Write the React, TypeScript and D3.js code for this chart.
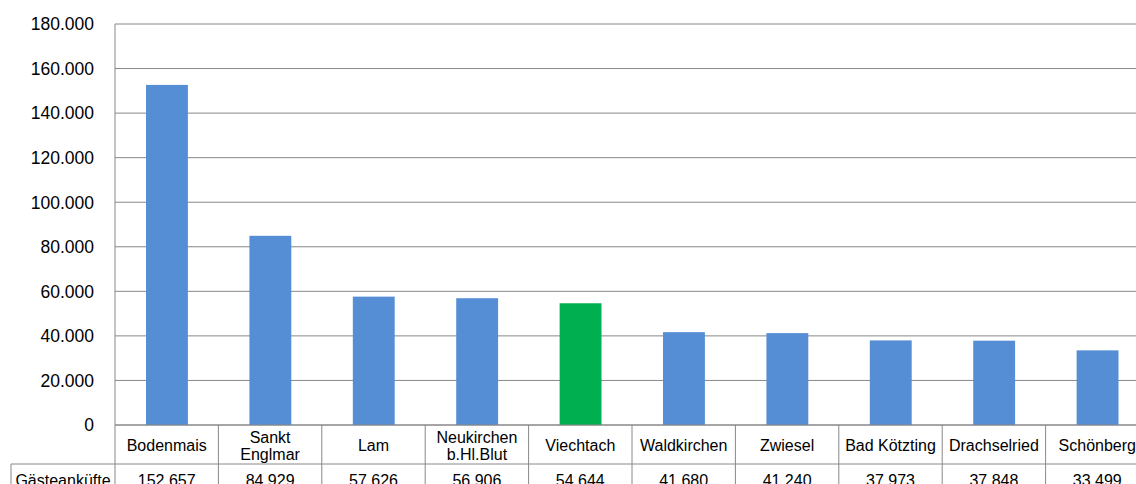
import React from "react";
import * as d3 from "d3";

const categories: string[][] = [
  ["Bodenmais"],
  ["Sankt", "Englmar"],
  ["Lam"],
  ["Neukirchen", "b.Hl.Blut"],
  ["Viechtach"],
  ["Waldkirchen"],
  ["Zwiesel"],
  ["Bad Kötzting"],
  ["Drachselried"],
  ["Schönberg"],
];
const values: number[] = [152657, 84929, 57626, 56906, 54644, 41680, 41240, 37973, 37848, 33499];
const highlight: boolean[] = [false, false, false, false, true, false, false, false, false, false];
const yTicks: number[] = [0, 20000, 40000, 60000, 80000, 100000, 120000, 140000, 160000, 180000];
const seriesName = "Gästeanküfte";

const fmt = (v: number) => (v === 0 ? "0" : d3.format(",.0f")(v).replace(/,/g, "."));

export default function App() {
  const W = 1136, H = 484;
  const left = 115, top = 24, bottom = 425;
  const bandW = 103.4;
  const x = d3.scaleBand<number>().domain(d3.range(values.length)).range([left, left + bandW * values.length]).padding(0);
  const y = d3.scaleLinear().domain([0, 180000]).range([bottom, top]);
  const bw = x.bandwidth();
  const right = left + bw * values.length;
  const row1B = 464, row2B = 504;
  const font = "'Liberation Sans', Arial, sans-serif";
  const grid = "#888888";
  return (
    <svg width={W} height={H} style={{ position: "fixed", left: 0, top: 0, background: "#fff" }} fontFamily={font}>
      <rect width={W} height={H} fill="#fff" />
      {yTicks.map((t) => (
        <g key={t}>
          <line x1={left} x2={right} y1={y(t)} y2={y(t)} stroke={grid} strokeWidth={1} />
          <text x={94} y={y(t)} dy="0.36em" textAnchor="end" fontSize={17.5} fill="#000">{fmt(t)}</text>
        </g>
      ))}
      <line x1={left} x2={left} y1={top} y2={row2B} stroke={grid} strokeWidth={1} />
      {values.map((v, i) => (
        <rect key={i} x={(x(i) as number) + bw * 0.3} width={bw * 0.405} y={y(v)} height={y(0) - y(v)}
          fill={highlight[i] ? "#00B050" : "#558ED5"} />
      ))}
      {/* table */}
      <line x1={11} x2={right} y1={row1B} y2={row1B} stroke={grid} strokeWidth={1} />
      <line x1={11} x2={11} y1={row1B} y2={row2B} stroke={grid} strokeWidth={1} />
      <line x1={left} x2={right} y1={bottom} y2={bottom} stroke={grid} strokeWidth={1} />
      {values.map((v, i) => (
        <line key={"v" + i} x1={(x(i) as number) + bw} x2={(x(i) as number) + bw} y1={bottom} y2={row2B} stroke={grid} strokeWidth={1} />
      ))}
      {categories.map((lines, i) => {
        const cx = (x(i) as number) + bw / 2;
        const cy = (bottom + row1B) / 2 + 1;
        const lh = 16.5;
        return (
          <text key={"c" + i} x={cx} textAnchor="middle" fontSize={16} fill="#000">
            {lines.map((l, j) => (
              <tspan key={j} x={cx} y={cy + (j - (lines.length - 1) / 2) * lh} dy="0.36em">{l}</tspan>
            ))}
          </text>
        );
      })}
      <text x={(11 + left) / 2} y={485.5} textAnchor="middle" fontSize={16} fill="#000">{seriesName}</text>
      {values.map((v, i) => (
        <text key={"t" + i} x={(x(i) as number) + bw / 2} y={485.5} textAnchor="middle" fontSize={16} fill="#000">{fmt(v)}</text>
      ))}
    </svg>
  );
}
